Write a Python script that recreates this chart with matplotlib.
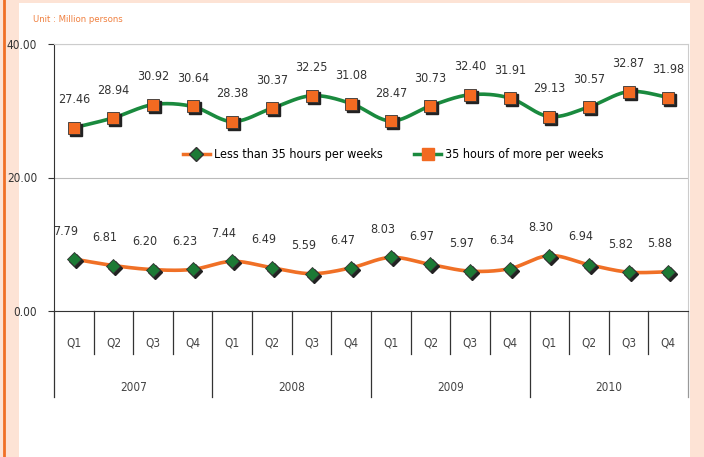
import numpy as np
import matplotlib.pyplot as plt
import matplotlib.transforms as mtransforms
from matplotlib.patches import Rectangle
from matplotlib.lines import Line2D

# ── data ──────────────────────────────────────────────────────────────────────
quarters = ["Q1", "Q2", "Q3", "Q4"] * 4
years = ["2007", "2008", "2009", "2010"]
less_35 = [7.79, 6.81, 6.20, 6.23, 7.44, 6.49, 5.59, 6.47,
           8.03, 6.97, 5.97, 6.34, 8.30, 6.94, 5.82, 5.88]
more_35 = [27.46, 28.94, 30.92, 30.64, 28.38, 30.37, 32.25, 31.08,
           28.47, 30.73, 32.40, 31.91, 29.13, 30.57, 32.87, 31.98]
yticks = [0, 20, 40]

ORANGE = "#F07026"
GREEN = "#1A8A3E"
DIAMOND = "#1C7A35"
SQUARE = "#F26A21"
PEACH = "#FDE3D5"
TXT = "#333333"

plt.rcParams["font.family"] = ["DejaVu Sans"]
plt.rcParams["font.stretch"] = "condensed"


def smooth(y, n=20):
    # catmull-rom curve through the points (like excel "smoothed line")
    y = np.asarray(y, float)
    x = np.arange(len(y), dtype=float)
    px = np.concatenate([[x[0]], x, [x[-1]]])
    py = np.concatenate([[y[0]], y, [y[-1]]])
    xs, ys = [], []
    for i in range(1, len(px) - 2):
        t = np.linspace(0, 1, n, endpoint=False)
        for p, out in ((px, xs), (py, ys)):
            p0, p1, p2, p3 = p[i - 1], p[i], p[i + 1], p[i + 2]
            out.extend(0.5 * (2 * p1 + (-p0 + p2) * t
                              + (2 * p0 - 5 * p1 + 4 * p2 - p3) * t ** 2
                              + (-p0 + 3 * p1 - 3 * p2 + p3) * t ** 3))
    xs.append(x[-1]); ys.append(y[-1])
    return np.array(xs), np.array(ys)


fig = plt.figure(figsize=(7.04, 4.57), dpi=100)
fig.patch.set_facecolor(PEACH)
# white panel + orange border on the left
fig.add_artist(Rectangle((19 / 704, 0), (690 - 19) / 704, (457 - 3) / 457,
                         transform=fig.transFigure, facecolor="white",
                         edgecolor="none", zorder=0))
fig.add_artist(Line2D([3.5 / 704, 3.5 / 704], [0, 1], transform=fig.transFigure,
                      color=ORANGE, lw=2))

ax = fig.add_axes([54 / 704, 1 - 311 / 457, (688 - 54) / 704, (311 - 44) / 457])
ax.set_facecolor("none")
n = len(more_35)
x = np.arange(n)
ax.set_xlim(-0.5, n - 0.5)
ax.set_ylim(0, 40)
ax.set_yticks(yticks)
ax.set_yticklabels([f"{v:.2f}" for v in yticks], fontsize=8.5, color=TXT)
ax.tick_params(axis="y", length=4, width=0.8, color="#333333", pad=8)
ax.set_xticks([])
ax.grid(axis="y", color="#BBBBBB", lw=0.8)
ax.set_axisbelow(True)
for s in ["top", "right"]:
    ax.spines[s].set_color("#CCCCCC")
ax.spines["left"].set_color("#333333")
ax.spines["bottom"].set_color("#333333")
ax.spines["left"].set_bounds(0, 40)

shadow = mtransforms.offset_copy(ax.transData, fig=fig, x=2, y=-2, units="dots")

for vals, lc, mc, mk, ms, dx, lab in [
    (less_35, ORANGE, DIAMOND, "D", 7, -6, "Less than 35 hours per weeks"),
    (more_35, GREEN, SQUARE, "s", 8, 0, "35 hours of more per weeks"),
]:
    sx, sy = smooth(vals)
    ax.plot(sx, sy, color=lc, lw=2.6, zorder=3, solid_capstyle="round")
    ax.plot(x, vals, ls="none", marker=mk, ms=ms, color="#222222",
            transform=shadow, zorder=4)
    ax.plot(x, vals, ls="none", marker=mk, ms=ms, mfc=mc, mec="#333333",
            mew=0.6, zorder=5)
    for xi, v in zip(x, vals):
        ax.annotate(f"{v:.2f}", (xi, v), xytext=(dx, 20), textcoords="offset points",
                    ha="center", va="center", fontsize=9, color=TXT)

# legend
h1 = Line2D([], [], color=ORANGE, lw=2.5, marker="D", ms=7, mfc=DIAMOND, mec="#333333")
h2 = Line2D([], [], color=GREEN, lw=2.5, marker="s", ms=8, mfc=SQUARE, mec=SQUARE)
ax.legend([h1, h2], ["Less than 35 hours per weeks", "35 hours of more per weeks"],
          loc="center", bbox_to_anchor=(0.535, 0.585), ncol=2, frameon=False,
          fontsize=9, handlelength=2.2, columnspacing=2.5, handletextpad=0.3)

# two-level category axis below the plot
blend = mtransforms.blended_transform_factory(ax.transData, ax.transAxes)
px = 1 / 267  # one pixel in axes fraction (vertical)
for b in np.arange(-0.5, n, 1.0):
    depth = 86 if (b + 0.5) % 4 == 0 else 43
    col = "#999999" if b == n - 0.5 else "#333333"
    ax.plot([b, b], [0, -depth * px], transform=blend, color=col,
            lw=0.9, clip_on=False)
for xi, q in zip(x, quarters):
    ax.text(xi, -32 * px, q, transform=blend, ha="center", va="center",
            fontsize=8.5, color="#444444")
for i, yr in enumerate(years):
    ax.text(4 * i + 1.5, -76 * px, yr, transform=blend, ha="center", va="center",
            fontsize=8.5, color="#444444")

fig.text(33 / 704, 1 - 19 / 457, "Unit : Million persons", fontsize=6.8,
         color="#F08040", ha="left", va="center")

fig.savefig("out.png", dpi=100, facecolor=fig.get_facecolor())
